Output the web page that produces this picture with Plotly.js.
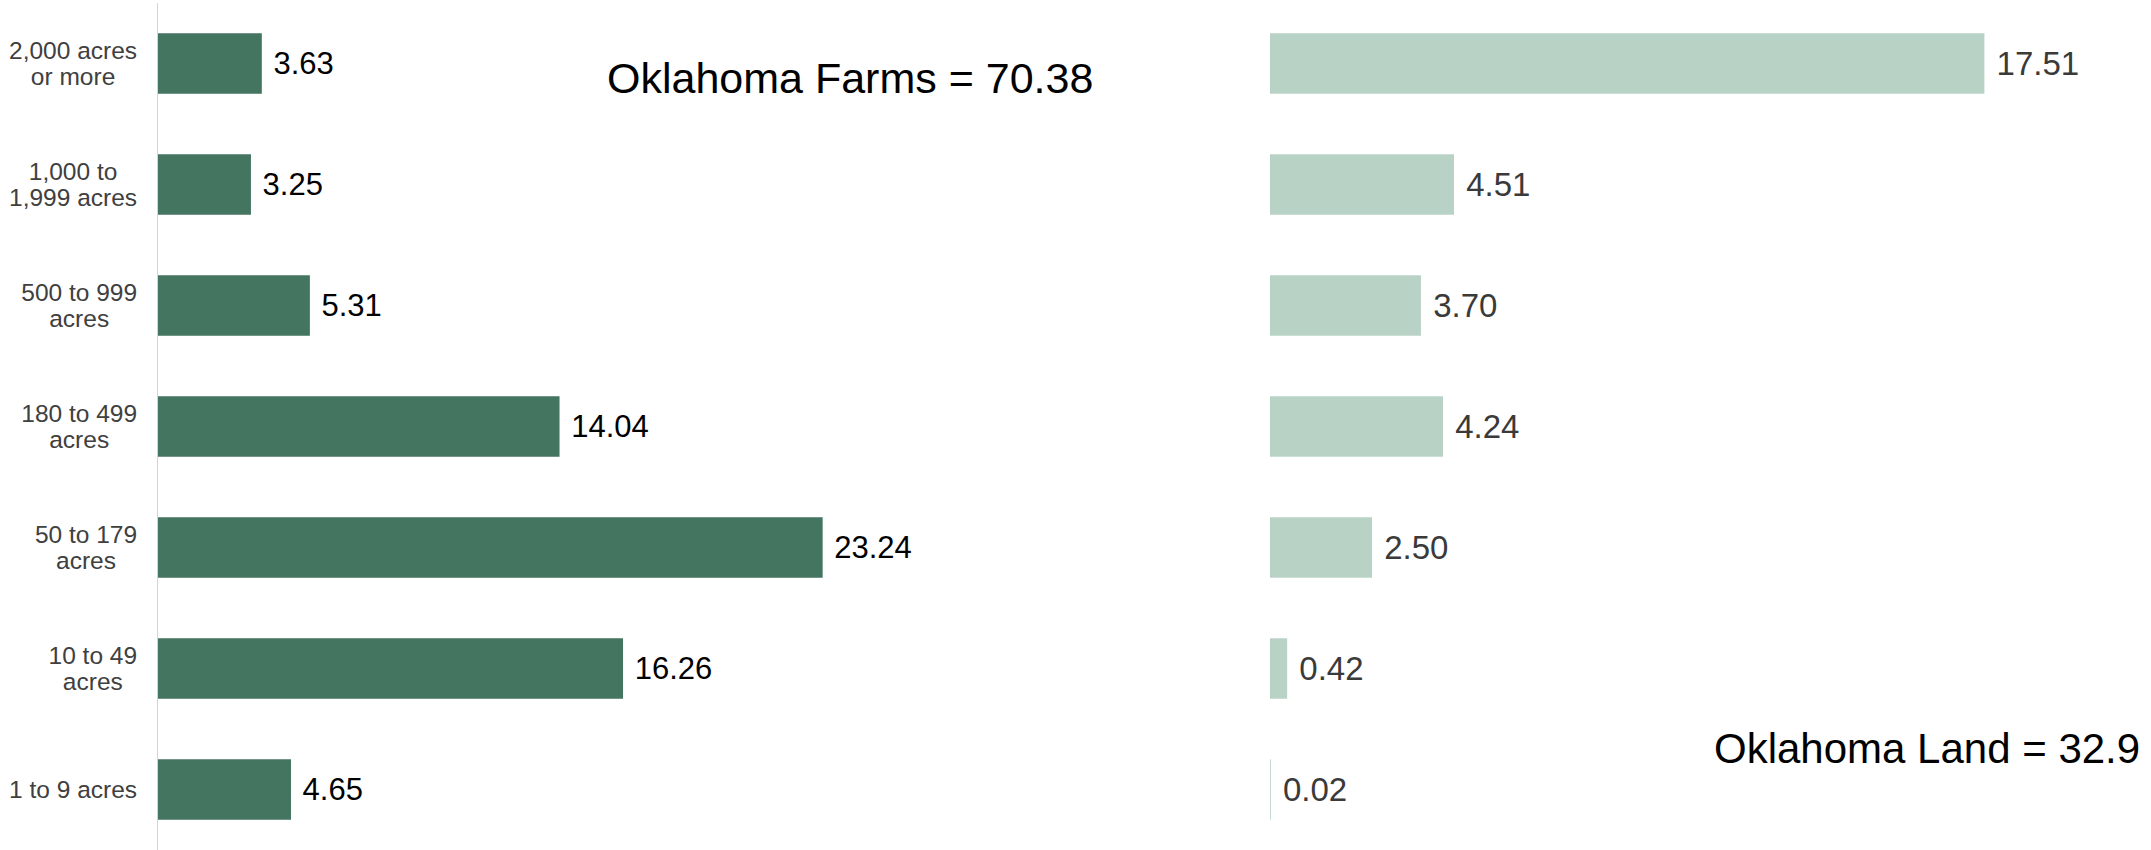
<!DOCTYPE html>
<html>
<head>
<meta charset="utf-8">
<script src="https://cdn.plot.ly/plotly-3.0.1.min.js"></script>
<style>html,body{margin:0;padding:0;background:#fff;}#chart{width:2151px;height:850px;}</style>
</head>
<body>
<div id="chart"></div>
<script>
const categories = ["1 to 9 acres", "10 to 49<br>acres", "50 to 179<br>acres", "180 to 499<br>acres", "500 to 999<br>acres", "1,000 to<br>1,999 acres", "2,000 acres<br>or more"];
const farms = [4.65, 16.26, 23.24, 14.04, 5.31, 3.25, 3.63];
const land = [0.02, 0.42, 2.50, 4.24, 3.70, 4.51, 17.51];
const farmsTitle = "Oklahoma Farms = 70.38";
const landTitle = "Oklahoma Land = 32.9";

const W = 2151, H = 850;
const font = "Liberation Sans, Arial, sans-serif";
const tickSize = 24.5;

const traces = [
  {
    type: "bar", orientation: "h",
    x: farms, y: categories, xaxis: "x", yaxis: "y",
    marker: {color: "#437561", line: {width: 0}},
    texttemplate: "\u00a0%{x:.2f}", textposition: "outside",
    textfont: {family: font, size: 31, color: "#000000"},
    cliponaxis: false, hoverinfo: "skip"
  },
  {
    type: "bar", orientation: "h",
    x: land, y: categories, xaxis: "x2", yaxis: "y2",
    marker: {color: "#B8D3C5", line: {width: 0}},
    texttemplate: "\u00a0%{x:.2f}", textposition: "outside",
    textfont: {family: font, size: 33, color: "#3a3a3a"},
    cliponaxis: false, hoverinfo: "skip"
  }
];

const leftStart = 158, leftEnd = 1180, leftPx = 28.6;
const rightStart = 1270, rightEnd = 2151, rightPx = 40.8;

const layout = {
  width: W, height: H,
  margin: {l: 0, r: 0, t: 3, b: 0, pad: 0},
  paper_bgcolor: "#ffffff", plot_bgcolor: "#ffffff",
  showlegend: false,
  bargap: 0.5,
  font: {family: font},
  xaxis: {
    domain: [leftStart / W, leftEnd / W],
    range: [0, (leftEnd - leftStart) / leftPx],
    showgrid: false, zeroline: false, showticklabels: false, showline: false, fixedrange: true
  },
  xaxis2: {
    domain: [rightStart / W, rightEnd / W],
    range: [0, (rightEnd - rightStart) / rightPx],
    showgrid: false, zeroline: false, showticklabels: false, showline: false, fixedrange: true
  },
  yaxis: {
    anchor: "x", type: "category",
    showgrid: false, zeroline: false,
    showline: true, linecolor: "#d4d4d4", linewidth: 1,
    ticks: "outside", ticklen: 15, tickcolor: "rgba(0,0,0,0)",
    tickfont: {family: font, size: tickSize, color: "#404040"},
    fixedrange: true
  },
  yaxis2: {
    anchor: "x2", type: "category", matches: "y",
    showgrid: false, zeroline: false, showline: false, showticklabels: false,
    fixedrange: true
  },
  annotations: [
    {text: farmsTitle, xref: "paper", yref: "paper", x: 850 / W, y: (H - 78) / (H - 3),
     xanchor: "center", yanchor: "middle", showarrow: false,
     font: {family: font, size: 43, color: "#000000"}},
    {text: landTitle, xref: "paper", yref: "paper", x: 1927 / W, y: (H - 748) / (H - 3),
     xanchor: "center", yanchor: "middle", showarrow: false,
     font: {family: font, size: 42, color: "#000000"}}
  ]
};

Plotly.newPlot("chart", traces, layout, {displayModeBar: false, staticPlot: true}).then(function (gd) {
  // Centre each line of the multi-line tick labels within its block, as in the reference,
  // and tighten the line spacing slightly.
  gd.querySelectorAll(".yaxislayer-above .ytick text").forEach(function (t) {
    const b0 = t.getBBox();
    const cy0 = b0.y + b0.height / 2;
    const right = b0.x + b0.width;
    const lines = t.querySelectorAll("tspan.line");
    lines.forEach(function (ln, i) { if (i > 0) ln.setAttribute("dy", "1.08em"); });
    const cx = right - b0.width / 2;
    t.setAttribute("text-anchor", "middle");
    t.setAttribute("x", cx);
    lines.forEach(function (ln) { if (ln.hasAttribute("x")) ln.setAttribute("x", cx); });
    const b1 = t.getBBox();
    const dy = cy0 - (b1.y + b1.height / 2);
    const y = parseFloat(t.getAttribute("y") || "0");
    t.setAttribute("y", y + dy);
    lines.forEach(function (ln) { if (ln.hasAttribute("y")) ln.setAttribute("y", parseFloat(ln.getAttribute("y")) + dy); });
  });
});
</script>
</body>
</html>
